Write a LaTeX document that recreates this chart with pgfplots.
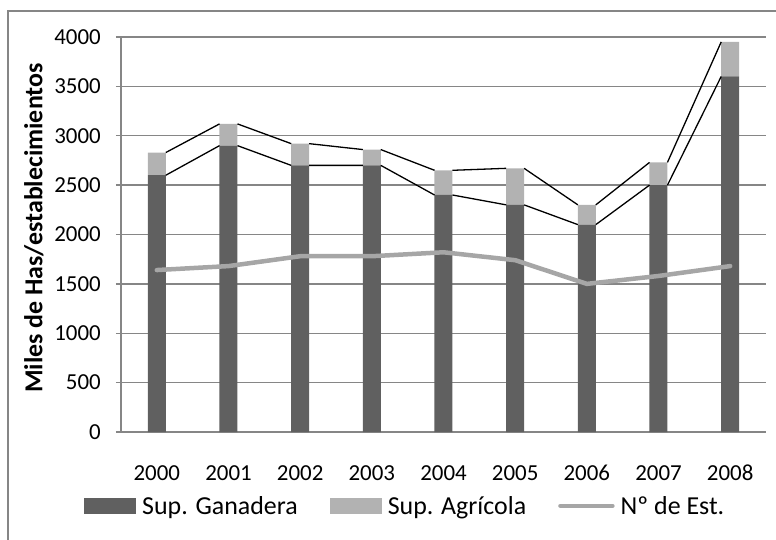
\documentclass[border=0pt]{standalone}
\usepackage{fontspec}
\setmainfont{Carlito}
\usepackage{pgfplots}
\pgfplotsset{compat=1.18}
\usepackage{pgfplotstable}
\definecolor{ganc}{HTML}{606060}
\definecolor{agrc}{HTML}{B2B2B2}
\definecolor{estc}{HTML}{A6A6A6}
\definecolor{gridc}{HTML}{868686}

\pgfplotstableread{
x year gan agr est
0 2000 2600 230 1640
1 2001 2900 220 1680
2 2002 2700 220 1780
3 2003 2700 160 1780
4 2004 2400 250 1820
5 2005 2300 370 1740
6 2006 2100 200 1500
7 2007 2500 230 1580
8 2008 3600 350 1680
}\datatable

\pgfplotsset{
  common/.style={
    scale only axis, width=645bp, height=395bp,
    at={(0,0)}, anchor=south west,
    xmin=-0.5, xmax=8.5, ymin=0, ymax=4000,
  }
}
\newcommand{\tickfont}{\fontsize{23}{24}\selectfont}

\begin{document}
\begin{tikzpicture}
\useasboundingbox (-121bp,-108bp) rectangle (655bp,432bp);
\begin{axis}[common,
  ybar stacked, bar width=18bp,
  axis x line*=bottom, axis y line*=left,
  axis line style={gridc, line width=1.3bp},
  ytick={0,500,...,4000},
  xtick={0,...,8},
  xticklabels={2000,2001,2002,2003,2004,2005,2006,2007,2008},
  ymajorgrids, grid style={gridc, line width=1.3bp},
  major tick length=5bp, tick align=outside,
  ytick style={gridc, line width=1.3bp},
  xtick style={draw=none},
  /pgf/number format/assume math mode=true,
  /pgf/number format/1000 sep={},
  tick label style={font=\tickfont},
  yticklabel style={inner sep=0pt, anchor=east, xshift=-15bp},
  xticklabel style={inner sep=0pt, anchor=center, yshift=-36bp},
  ylabel={Miles de Has/establecimientos},
  ylabel style={font=\bfseries\fontsize{26}{26}\selectfont, at={(axis description cs:-0.135,0.516)}, anchor=center},
  legend columns=3,
  legend style={draw=none, fill=none, at={(axis description cs:-0.062,-0.187)}, anchor=west,
    font=\fontsize{26}{26}\selectfont,
    /tikz/every odd column/.append style={column sep=4bp},
    /tikz/every even column/.append style={column sep=30bp}},
]
\addplot[fill=ganc, draw=none,
  legend image code/.code={\fill[ganc] (0bp,-8bp) rectangle (52bp,8bp);}]
  table[x=x,y=gan]{\datatable};
\addplot[fill=agrc, draw=none,
  legend image code/.code={\fill[agrc] (0bp,-8bp) rectangle (52bp,8bp);}]
  table[x=x,y=agr]{\datatable};
\addlegendimage{legend image code/.code={\draw[estc, line width=4.5bp, line cap=round] (0bp,0bp) -- (52bp,0bp);}}
\legend{Sup. Ganadera, Sup. Agrícola, Nº de Est.}
\end{axis}
\begin{axis}[common, hide axis, unbounded coords=jump]
\addplot[black, line width=1.3bp, mark=none] coordinates {
 (0.125,2600) (0.875,2900) (1,nan)
 (1.125,2900) (1.875,2700) (2,nan)
 (2.125,2700) (2.875,2700) (3,nan)
 (3.125,2700) (3.875,2400) (4,nan)
 (4.125,2400) (4.875,2300) (5,nan)
 (5.125,2300) (5.875,2100) (6,nan)
 (6.125,2100) (6.875,2500) (7,nan)
 (7.125,2500) (7.875,3600)
};
\addplot[black, line width=1.3bp, mark=none] coordinates {
 (0.125,2830) (0.875,3120) (1,nan)
 (1.125,3120) (1.875,2920) (2,nan)
 (2.125,2920) (2.875,2860) (3,nan)
 (3.125,2860) (3.875,2650) (4,nan)
 (4.125,2650) (4.875,2670) (5,nan)
 (5.125,2670) (5.875,2300) (6,nan)
 (6.125,2300) (6.875,2730) (7,nan)
 (7.125,2730) (7.875,3950)
};
\addplot[estc, line width=4.5bp, line cap=round, line join=round, mark=none]
  table[x=x,y=est]{\datatable};
\end{axis}
\draw[gridc, line width=1.3bp] (-113bp,-130bp) -- (-113bp,421bp) -- (680bp,421bp);
\end{tikzpicture}
\end{document}
